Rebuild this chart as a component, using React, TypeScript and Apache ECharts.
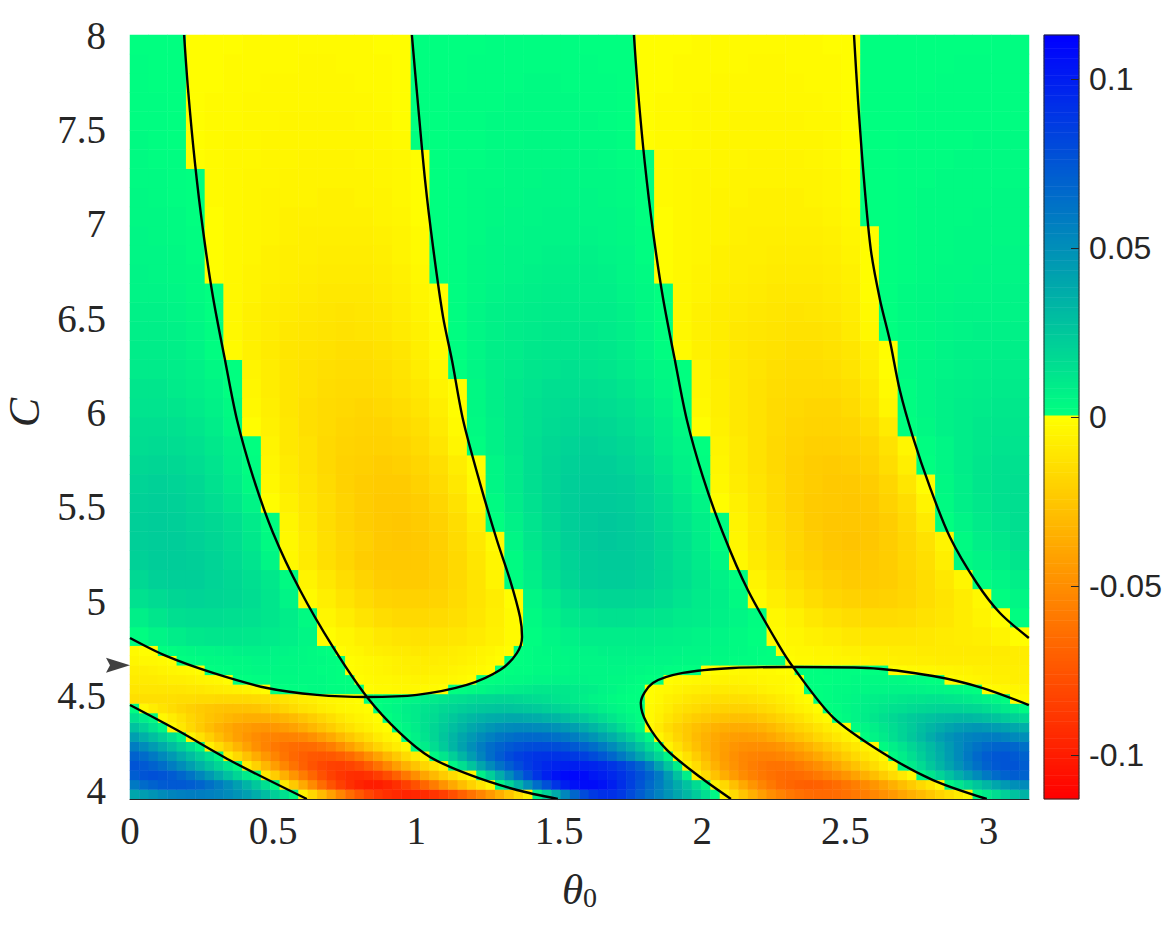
import React, { useEffect, useRef } from "react";
import * as echarts from "echarts";

// Field values in thousandths.
// Lower band: one row per C = 4.025, 4.075, ... 4.775, 96 columns across theta0.
const lowerRows: number[][] = [
  [40,44,48,52,55,57,58,58,57,55,52,48,43,37,30,22,14,5,-6,-18,-30,-42,-54,-65,-74,-82,-88,-92,-95,-97,-96,-94,-90,-85,-78,-70,-62,-54,-45,-36,-26,-16,-6,8,22,38,54,68,80,88,92,92,88,80,72,64,56,48,40,32,24,15,5,-6,-16,-26,-35,-43,-50,-55,-60,-63,-65,-66,-66,-65,-63,-60,-57,-53,-49,-45,-40,-35,-30,-25,-19,-14,-9,-4,4,10,16,22,28,34],
  [60,66,70,73,74,74,72,69,64,58,51,43,34,25,15,5,-10,-24,-38,-52,-65,-76,-85,-92,-97,-100,-100,-97,-92,-85,-77,-68,-58,-48,-38,-29,-20,-12,-4,6,20,35,50,65,78,90,100,106,108,108,105,100,93,85,76,67,58,48,38,28,17,6,-6,-17,-28,-38,-47,-54,-60,-65,-68,-70,-71,-70,-68,-65,-61,-57,-52,-47,-41,-35,-29,-23,-17,-11,-4,5,12,19,26,33,40,46,50,52],
  [72,76,78,76,73,68,62,54,46,37,28,19,10,3,-10,-22,-35,-47,-58,-68,-77,-84,-89,-92,-93,-91,-86,-79,-70,-60,-50,-40,-31,-23,-16,-9,-3,8,22,37,52,66,79,90,99,105,109,110,108,103,100,96,91,85,78,70,60,45,28,8,-6,-16,-27,-36,-44,-51,-56,-60,-63,-65,-66,-65,-63,-60,-56,-52,-47,-41,-35,-29,-22,-16,-10,-3,5,12,20,28,36,44,52,60,66,70,72,70],
  [76,74,70,65,58,51,43,35,27,19,11,3,-9,-20,-32,-43,-53,-62,-70,-76,-81,-84,-85,-83,-79,-72,-63,-53,-43,-34,-26,-18,-11,-4,5,15,27,40,52,63,72,80,87,92,96,98,100,100,99,97,94,90,85,78,70,58,42,26,8,-6,-15,-25,-34,-42,-48,-53,-57,-60,-62,-62,-61,-58,-54,-50,-45,-39,-33,-27,-21,-15,-9,-3,4,10,17,25,33,41,49,57,64,70,74,76,76,72],
  [70,66,60,53,46,38,30,22,14,5,-7,-17,-27,-37,-46,-54,-61,-67,-71,-74,-75,-74,-71,-66,-59,-50,-41,-32,-24,-16,-9,-3,4,12,22,33,44,55,65,73,80,85,88,90,91,91,90,88,85,80,75,68,60,51,41,30,19,6,-5,-13,-22,-30,-38,-44,-49,-53,-55,-56,-56,-54,-52,-48,-44,-39,-33,-28,-22,-17,-12,-7,-2,3,9,15,22,29,36,44,52,60,67,72,75,76,74,70],
  [58,52,45,38,30,22,14,5,-6,-15,-24,-33,-41,-49,-55,-60,-63,-65,-66,-65,-62,-57,-50,-42,-34,-26,-19,-13,-8,-3,3,9,16,24,33,42,50,58,65,70,74,77,79,80,80,79,77,74,70,65,59,52,44,36,27,16,5,-5,-13,-21,-28,-34,-39,-43,-47,-49,-50,-50,-49,-47,-43,-39,-34,-29,-24,-19,-14,-10,-6,-2,3,8,13,19,25,31,38,45,52,58,63,67,69,70,68,64],
  [43,36,29,22,14,5,-5,-13,-21,-29,-36,-42,-47,-51,-54,-55,-56,-55,-53,-49,-44,-38,-31,-25,-19,-14,-9,-5,-2,2,7,13,19,26,33,40,46,52,57,61,64,66,67,67,66,64,61,58,53,48,42,36,29,22,13,4,-4,-11,-18,-24,-30,-34,-38,-41,-43,-44,-43,-42,-39,-35,-31,-27,-23,-18,-14,-10,-6,-2,2,6,10,15,20,25,31,37,43,48,52,55,57,58,58,56,53,50],
  [28,21,13,5,-3,-10,-17,-23,-29,-34,-38,-42,-44,-46,-47,-46,-44,-41,-37,-32,-27,-22,-17,-13,-9,-6,-3,-1,2,5,9,14,19,24,29,34,39,43,47,50,52,53,53,52,51,49,46,43,38,33,28,22,16,9,3,-3,-9,-15,-20,-24,-28,-31,-34,-36,-37,-37,-36,-34,-31,-27,-23,-19,-16,-12,-8,-5,-2,2,5,8,12,16,20,24,29,33,37,41,44,46,47,46,44,42,39,36],
  [14,9,3,-3,-8,-13,-18,-22,-26,-29,-32,-34,-36,-36,-36,-35,-33,-30,-26,-22,-18,-14,-10,-7,-5,-3,-1,1,4,7,10,14,17,21,25,29,32,35,37,38,39,39,38,37,35,33,30,27,24,20,16,12,8,5,2,-2,-6,-11,-15,-19,-22,-24,-26,-27,-28,-28,-27,-25,-22,-19,-16,-13,-9,-5,-2,1,3,6,9,12,15,18,21,24,26,28,30,31,32,32,31,29,27,24,21,18],
  [2,-3,-8,-12,-15,-18,-21,-23,-25,-26,-27,-27,-27,-26,-24,-22,-19,-16,-13,-11,-8,-6,-4,-3,-2,-1,1,3,5,8,10,13,15,18,20,22,24,25,26,27,27,26,25,24,22,20,18,16,13,11,8,6,4,2,1,-2,-5,-8,-12,-14,-16,-18,-19,-20,-20,-20,-19,-17,-15,-12,-9,-6,-4,-1,1,2,4,6,8,10,12,14,15,17,18,19,20,20,20,19,18,16,13,10,7,3],
  [-14,-14,-14,-14,-14,-15,-15,-16,-16,-17,-17,-17,-17,-16,-15,-14,-12,-10,-8,-7,-5,-4,-3,-2,-1,1,1,2,3,5,6,8,10,12,14,15,17,18,18,19,19,18,17,16,15,13,12,10,8,6,5,3,2,1,1,-1,-3,-6,-8,-10,-12,-13,-14,-14,-14,-14,-13,-12,-10,-8,-6,-3,-1,1,2,3,4,5,7,8,9,10,11,12,12,13,13,12,11,10,8,6,4,2,-1,-3],
  [-11,-11,-11,-11,-11,-11,-10,-10,-9,-8,-7,-6,-5,-3,-1,1,1,2,2,3,3,2,2,1,1,-1,-2,-2,-3,-3,-3,-2,-2,-1,1,2,3,4,6,7,8,9,10,11,11,11,11,10,9,8,6,5,3,2,1,-1,-2,-3,-5,-6,-7,-8,-9,-9,-9,-8,-8,-6,-5,-4,-2,-1,1,1,2,3,3,4,4,5,5,6,6,6,6,5,5,4,3,2,1,-1,-2,-3,-4,-5],
  [-9,-9,-9,-8,-7,-7,-6,-5,-4,-3,-1,1,1,2,2,3,3,3,3,3,3,2,1,1,-1,-2,-3,-3,-4,-4,-5,-5,-4,-4,-3,-2,-1,1,1,2,3,3,4,5,5,6,6,6,6,5,5,4,4,3,2,1,1,-1,-2,-2,-3,-4,-4,-5,-5,-5,-4,-4,-3,-3,-2,-1,1,1,1,2,2,3,3,3,3,3,3,2,2,1,1,-1,-2,-3,-4,-5,-6,-6,-7,-7],
  [-7,-7,-6,-5,-4,-3,-2,-1,1,2,2,3,3,4,4,4,4,4,3,3,2,2,1,-1,-2,-3,-4,-5,-6,-6,-7,-7,-6,-6,-5,-4,-3,-2,-1,1,1,2,2,3,3,4,4,5,5,5,5,5,5,4,4,3,3,2,2,1,1,-1,-1,-2,-2,-3,-3,-2,-2,-1,-1,1,1,1,2,2,2,2,1,1,1,-1,-1,-2,-3,-3,-4,-4,-5,-5,-6,-6,-7,-7,-7,-7],
  [-4,-3,-3,-2,-1,1,2,2,3,3,4,4,4,5,5,5,4,4,4,3,3,2,1,-1,-2,-3,-4,-5,-6,-7,-7,-8,-8,-7,-7,-6,-5,-4,-2,-1,1,1,2,3,3,4,4,5,5,5,5,6,6,6,5,5,5,5,4,4,4,3,3,3,2,2,2,1,1,1,-1,-2,-2,-3,-3,-4,-4,-5,-5,-6,-6,-6,-7,-7,-7,-7,-8,-8,-8,-8,-8,-8,-8,-8,-8,-8],
  [-2,-1,-1,1,2,3,4,5,5,6,6,7,7,7,7,6,6,5,4,3,2,1,-1,-3,-4,-6,-7,-8,-9,-9,-10,-10,-9,-9,-8,-7,-6,-5,-4,-2,-1,1,2,3,4,4,5,5,6,6,7,7,7,7,7,7,6,6,6,5,5,5,4,4,3,3,2,2,1,-1,-2,-3,-3,-4,-4,-5,-6,-6,-7,-7,-7,-8,-8,-8,-9,-9,-9,-9,-9,-9,-9,-9,-9,-9,-8,-8],
];

// Upper field: one row per C = 4.85, 4.95, ... 7.95, 48 columns across theta0.
const upperRows: number[][] = [
  [2,6,9,11,12,12,11,10,8,5,-1,-4,-7,-10,-12,-13,-12,-11,-9,-6,-2,2,5,7,9,9,9,9,8,7,6,5,3,1,-2,-4,-6,-8,-10,-11,-11,-11,-10,-9,-8,-7,-5,-1],
  [8,12,15,16,16,15,14,12,9,3,-4,-8,-12,-15,-17,-17,-16,-14,-11,-7,-2,3,7,11,13,14,14,13,12,10,9,7,5,2,-3,-6,-10,-13,-15,-16,-16,-15,-13,-11,-8,-5,-1,2],
  [14,17,19,20,19,18,16,12,6,-2,-7,-12,-16,-19,-20,-20,-19,-16,-12,-8,-1,5,10,15,18,19,19,18,16,13,10,8,3,-2,-7,-11,-15,-18,-20,-21,-20,-18,-15,-12,-8,-3,2,5],
  [18,21,22,22,20,18,15,11,3,-5,-10,-15,-19,-22,-23,-23,-21,-17,-12,-5,2,8,14,19,22,23,23,21,18,15,11,7,2,-5,-10,-14,-18,-21,-23,-23,-22,-19,-15,-10,-4,2,5,8],
  [21,23,23,22,20,17,13,5,-3,-9,-14,-18,-22,-24,-24,-24,-21,-17,-11,-4,3,10,16,20,23,24,24,22,18,14,10,4,-3,-9,-13,-18,-21,-24,-25,-24,-22,-18,-14,-7,3,6,9,12],
  [22,23,23,21,19,16,11,3,-3,-9,-14,-18,-21,-24,-25,-24,-21,-16,-10,-2,5,12,17,21,24,25,24,22,18,14,9,2,-4,-10,-14,-18,-22,-25,-26,-25,-22,-18,-13,-5,3,8,11,14],
  [22,23,22,20,18,15,10,2,-4,-10,-15,-19,-22,-24,-25,-23,-20,-15,-8,1,7,13,18,22,24,25,24,21,17,13,8,2,-5,-10,-15,-19,-23,-25,-25,-25,-22,-17,-9,1,6,10,13,15],
  [21,22,21,19,16,12,6,-1,-6,-11,-15,-19,-22,-24,-24,-22,-18,-13,-5,3,9,14,19,22,24,24,23,20,16,11,6,-1,-6,-11,-16,-20,-23,-24,-25,-24,-20,-15,-5,3,8,11,14,15],
  [20,21,20,18,14,10,3,-3,-8,-12,-16,-20,-22,-23,-23,-20,-16,-10,-2,5,10,15,19,22,23,23,22,19,14,9,3,-3,-8,-12,-16,-20,-22,-24,-24,-22,-18,-11,-1,4,8,12,14,15],
  [18,19,18,16,13,8,2,-4,-9,-13,-17,-20,-21,-22,-21,-18,-14,-8,-1,5,10,15,19,21,22,22,20,17,12,7,2,-4,-9,-13,-17,-20,-22,-23,-22,-20,-15,-7,1,5,9,12,14,14],
  [16,17,16,14,11,7,1,-5,-10,-13,-17,-19,-20,-20,-19,-16,-11,-4,2,7,11,15,18,20,21,20,18,15,10,6,1,-5,-9,-13,-17,-19,-21,-21,-20,-18,-13,-4,2,5,9,11,13,13],
  [15,15,14,12,9,4,-1,-6,-10,-14,-16,-18,-19,-19,-17,-14,-9,-2,3,7,11,14,17,18,19,18,16,13,9,4,-1,-6,-10,-13,-16,-18,-19,-19,-18,-15,-9,1,4,7,9,11,12,12],
  [13,13,12,10,7,3,-3,-7,-11,-14,-16,-17,-18,-17,-15,-12,-7,-1,4,8,11,14,16,17,17,16,14,11,7,2,-3,-7,-10,-13,-16,-17,-18,-18,-16,-12,-4,2,5,7,9,10,11,11],
  [12,12,10,8,6,1,-4,-8,-11,-13,-15,-16,-16,-15,-13,-10,-5,-1,4,8,11,13,15,15,15,14,12,9,5,1,-4,-7,-10,-13,-15,-16,-16,-16,-14,-10,-2,2,5,7,8,9,10,10],
  [10,10,9,7,4,1,-5,-8,-11,-13,-14,-15,-15,-14,-12,-8,-3,1,5,8,10,12,13,14,13,12,10,7,4,1,-4,-8,-10,-12,-14,-15,-15,-14,-12,-8,-1,3,5,6,7,8,9,9],
  [9,9,8,6,2,-2,-6,-9,-11,-12,-13,-14,-14,-13,-11,-7,-2,2,5,8,9,11,12,12,12,11,9,6,2,-2,-6,-8,-10,-12,-13,-14,-14,-13,-11,-7,-1,3,4,6,7,7,8,8],
  [8,8,7,5,2,-3,-6,-8,-10,-11,-12,-13,-12,-11,-9,-6,-2,2,5,7,9,10,11,11,11,10,8,5,1,-3,-6,-8,-10,-11,-12,-13,-13,-12,-9,-3,1,3,4,5,6,7,7,7],
  [7,7,6,4,1,-3,-6,-8,-9,-10,-11,-12,-11,-10,-8,-5,-1,2,5,7,8,9,10,10,9,9,7,4,1,-3,-6,-8,-9,-10,-11,-12,-11,-10,-8,-2,1,3,4,5,6,6,6,6],
  [6,6,5,3,1,-3,-5,-7,-8,-9,-10,-10,-10,-9,-7,-4,-1,2,4,6,7,8,9,9,8,8,6,4,1,-3,-5,-7,-8,-9,-10,-10,-10,-9,-7,-1,1,3,4,4,5,5,6,6],
  [6,5,4,3,-1,-3,-5,-6,-7,-8,-9,-9,-9,-8,-6,-3,1,2,4,5,6,7,8,8,8,7,5,3,-1,-3,-5,-6,-7,-8,-9,-9,-9,-8,-6,-1,1,2,3,4,4,5,5,5],
  [5,5,4,2,-1,-3,-4,-6,-7,-7,-8,-8,-8,-7,-5,-2,1,2,4,5,6,6,7,7,7,6,5,2,-1,-3,-4,-6,-7,-7,-8,-8,-8,-7,-5,-1,1,2,3,3,4,4,5,5],
  [5,4,3,2,-1,-3,-4,-5,-6,-7,-7,-7,-7,-6,-5,-2,1,2,3,5,5,6,6,6,6,5,4,2,-1,-3,-4,-5,-6,-7,-7,-7,-7,-6,-4,-1,1,2,3,3,4,4,4,4],
  [4,4,3,1,-1,-3,-4,-5,-6,-6,-6,-6,-6,-5,-4,-1,1,2,3,4,5,5,6,6,5,5,4,1,-1,-3,-4,-5,-6,-6,-6,-6,-6,-5,-3,1,1,2,3,3,3,4,4,4],
  [4,3,2,1,-2,-3,-4,-5,-5,-5,-6,-6,-5,-5,-3,-1,1,2,3,4,4,5,5,5,5,4,3,1,-2,-3,-4,-5,-5,-6,-6,-6,-5,-4,-2,1,1,2,3,3,3,3,4,4],
  [3,3,2,1,-2,-3,-4,-4,-5,-5,-5,-5,-5,-4,-3,-1,1,2,3,3,4,4,5,5,4,4,3,1,-2,-3,-4,-4,-5,-5,-5,-5,-5,-4,-2,1,1,2,2,3,3,3,3,3],
  [3,2,2,-1,-2,-3,-3,-4,-4,-5,-5,-5,-4,-4,-3,-1,1,2,2,3,4,4,4,4,4,3,2,1,-2,-3,-3,-4,-4,-5,-5,-5,-4,-3,-1,1,1,2,2,2,3,3,3,3],
  [3,2,1,-1,-2,-3,-3,-4,-4,-4,-4,-4,-4,-3,-2,1,1,2,2,3,3,4,4,4,3,3,2,-1,-2,-2,-3,-4,-4,-4,-4,-4,-4,-3,-1,1,1,2,2,2,2,3,3,3],
  [2,2,1,-1,-2,-2,-3,-3,-4,-4,-4,-4,-3,-3,-1,1,1,2,2,3,3,3,3,3,3,2,1,-1,-2,-2,-3,-3,-4,-4,-4,-4,-3,-3,-1,1,1,1,2,2,2,2,2,2],
  [2,2,1,-1,-2,-2,-3,-3,-3,-3,-3,-3,-3,-2,-1,1,1,2,2,2,3,3,3,3,2,2,1,-1,-2,-2,-3,-3,-3,-3,-3,-3,-3,-2,-1,1,1,1,2,2,2,2,2,2],
  [2,1,1,-1,-1,-2,-2,-3,-3,-3,-3,-3,-2,-2,-1,1,1,1,2,2,2,3,3,2,2,2,1,-1,-1,-2,-2,-3,-3,-3,-3,-3,-2,-2,-1,1,1,1,1,2,2,2,2,2],
  [2,1,1,-1,-1,-2,-2,-2,-2,-3,-3,-2,-2,-2,-1,1,1,1,2,2,2,2,2,2,2,1,1,-1,-1,-2,-2,-2,-2,-3,-3,-2,-2,-2,-1,1,1,1,1,1,2,2,2,2],
  [1,1,1,-1,-1,-1,-2,-2,-2,-2,-2,-2,-2,-1,-1,1,1,1,1,2,2,2,2,2,1,1,1,-1,-1,-1,-2,-2,-2,-2,-2,-2,-2,-1,-1,1,1,1,1,1,1,1,2,2],
];

// Zero-level contours, [theta0, C].
const contourA = [[.189,8],[.203,7.712],[.227,7.330],[.255,6.979],[.290,6.628],[.332,6.298],[.374,5.984],[.430,5.686],[.500,5.393],[.594,5.094],[.709,4.796],[.828,4.534],[.943,4.346],[1.048,4.220],[1.188,4.126],[1.352,4.047],[1.495,4]];
const contourB = [[.985,8],[1.006,7.644],[1.031,7.241],[1.059,6.890],[1.094,6.524],[1.125,6.298],[1.164,5.984],[1.223,5.654],[1.282,5.356],[1.328,5.147],[1.363,4.953],[1.370,4.848],[1.352,4.764],[1.293,4.675],[1.177,4.597],[1.003,4.545],[.828,4.534],[.653,4.545],[.479,4.581],[.290,4.660],[.126,4.749],[0,4.843]];
const contourC = [[1.761,8],[1.775,7.712],[1.799,7.330],[1.827,6.979],[1.862,6.628],[1.904,6.298],[1.946,5.984],[2.002,5.686],[2.072,5.393],[2.159,5.094],[2.271,4.796],[2.317,4.691],[2.456,4.429],[2.631,4.241],[2.806,4.099],[2.994,4]];
const contourD = [[2.530,8],[2.544,7.660],[2.565,7.241],[2.589,6.874],[2.621,6.613],[2.655,6.403],[2.690,6.141],[2.736,5.895],[2.795,5.634],[2.865,5.372],[2.959,5.131],[3.040,4.974],[3.141,4.843]];
const contourE = [[3.141,4.492],[2.980,4.581],[2.806,4.644],[2.575,4.686],[2.317,4.691],[2.107,4.686],[1.932,4.660],[1.827,4.607],[1.785,4.503],[1.806,4.398],[1.876,4.257],[1.992,4.115],[2.100,4]];
const contourL = [[0,4.492],[.164,4.361],[.360,4.194],[.618,4]];
const contours = [contourA, contourB, contourC, contourD, contourE, contourL];
const markerPoint = [[0, 4.7]];

const thetaTicks = [0, 0.5, 1, 1.5, 2, 2.5, 3];
const colorbarTicks = [-0.1, -0.05, 0, 0.05, 0.1];
const colorLimit = 113; // thousandths

const stopColors: string[] = [];
for (let i = -colorLimit; i <= colorLimit; i++) {
  if (i <= 0) stopColors.push(`rgb(255,${Math.round(255 * (1 + i / colorLimit))},0)`);
  else {
    const t = (i - 1) / (colorLimit - 1);
    stopColors.push(`rgb(0,${Math.round(255 * (1 - t))},${Math.round(128 + 127 * t)})`);
  }
}

const textColor = "#262626";
const serif = "'Liberation Serif', serif";

const toCells = (rows: number[][]) => {
  const cells: number[][] = [];
  rows.forEach((row, r) => row.forEach((v, c) => cells.push([c, r, v / 1000])));
  return cells;
};

export default function App() {
  const ref = useRef<HTMLDivElement>(null);
  useEffect(() => {
    document.body.style.margin = "0";
    const chart = echarts.init(ref.current!, undefined, { renderer: "svg" });
    const levels = stopColors.map((_, i) => i);
    const barCells = levels.map((i) => [0, i, (i - colorLimit) / 1000]);
    const hidden = { show: false };
    chart.setOption({
      animation: false,
      backgroundColor: "#fff",
      tooltip: { show: false },
      grid: [
        { left: 130, top: 35, width: 899, height: 764, outerBoundsMode: "none" },
        { left: 130, top: 35, width: 899, height: 755, outerBoundsMode: "none" },
        { left: 1044, top: 35, width: 35, height: 764, outerBoundsMode: "none", show: true, z: 5, borderColor: textColor, borderWidth: 1, backgroundColor: "transparent" },
        { left: 130, top: 35, width: 899, height: 611.2, outerBoundsMode: "none" },
        { left: 130, top: 646.2, width: 899, height: 152.8, outerBoundsMode: "none" },
      ],
      xAxis: [
        { type: "category", gridIndex: 3, show: false, data: upperRows[0].map((_, i) => i) },
        {
          type: "value", gridIndex: 0, position: "bottom", min: 0, max: Math.PI, z: 5,
          axisLine: { show: true, onZero: false, lineStyle: { color: textColor, width: 1 } },
          axisTick: { show: false }, splitLine: hidden,
          axisLabel: { customValues: thetaTicks, margin: 12, fontFamily: serif, fontSize: 39, color: textColor },
          name: "{t|θ}{s|0}", nameLocation: "middle", nameGap: 68,
          nameTextStyle: { rich: {
            t: { fontFamily: serif, fontStyle: "italic", fontSize: 43, color: textColor },
            s: { fontFamily: serif, fontSize: 28, color: textColor, verticalAlign: "bottom", padding: [16, 0, 0, 0] },
          } },
        },
        { type: "value", gridIndex: 1, show: false, min: 0, max: Math.PI },
        { type: "category", gridIndex: 2, show: false, data: [0] },
        { type: "value", gridIndex: 2, show: false, min: 0, max: 1 },
        { type: "category", gridIndex: 4, show: false, data: lowerRows[0].map((_, i) => i) },
      ],
      yAxis: [
        { type: "category", gridIndex: 3, show: false, data: upperRows.map((_, i) => i) },
        { type: "value", gridIndex: 0, min: 4, max: 8, show: false },
        {
          type: "value", gridIndex: 1, position: "left", min: 4, max: 8, interval: 0.5,
          axisLine: hidden, axisTick: hidden, splitLine: hidden,
          axisLabel: { margin: 24, fontFamily: serif, fontSize: 39, color: textColor },
          name: "C", nameLocation: "middle", nameGap: 83,
          nameTextStyle: { fontFamily: serif, fontStyle: "italic", fontSize: 44, color: textColor },
        },
        { type: "category", gridIndex: 2, show: false, data: levels },
        {
          type: "value", gridIndex: 2, position: "right", min: -0.113, max: 0.113, z: 6,
          axisLine: { show: false }, splitLine: hidden,
          axisTick: { show: true, inside: true, length: 8, customValues: colorbarTicks, lineStyle: { color: textColor, width: 1 } },
          axisLabel: { customValues: colorbarTicks, margin: 10, fontFamily: "'Liberation Sans', Arial, sans-serif", fontSize: 32, color: textColor },
        },
        { type: "category", gridIndex: 4, show: false, data: lowerRows.map((_, i) => i) },
      ],
      visualMap: {
        show: false, type: "continuous", min: -0.113, max: 0.113, dimension: 2,
        seriesIndex: [0, 1, 2], inRange: { color: stopColors },
      },
      series: [
        { type: "heatmap", xAxisIndex: 0, yAxisIndex: 0, data: toCells(upperRows), silent: true, progressive: 0 },
        { type: "heatmap", xAxisIndex: 5, yAxisIndex: 5, data: toCells(lowerRows), silent: true, progressive: 0 },
        { type: "heatmap", xAxisIndex: 3, yAxisIndex: 3, data: barCells, silent: true, progressive: 0 },
        ...contours.map((data) => ({
          type: "line", xAxisIndex: 1, yAxisIndex: 1, data, smooth: 0.3, symbol: "none", z: 4, silent: true,
          lineStyle: { color: "#000", width: 2.4 },
        })),
        {
          type: "scatter", xAxisIndex: 1, yAxisIndex: 1, data: markerPoint, clip: false, z: 5, silent: true,
          symbol: "path://M0 0 L24 7.5 L0 15 L4 7.5 Z", symbolSize: [24, 15], symbolOffset: [-12, 0],
          itemStyle: { color: "#111" },
        },
      ],
    });
    return () => chart.dispose();
  }, []);
  return <div ref={ref} style={{ width: 1172, height: 938 }} />;
}
